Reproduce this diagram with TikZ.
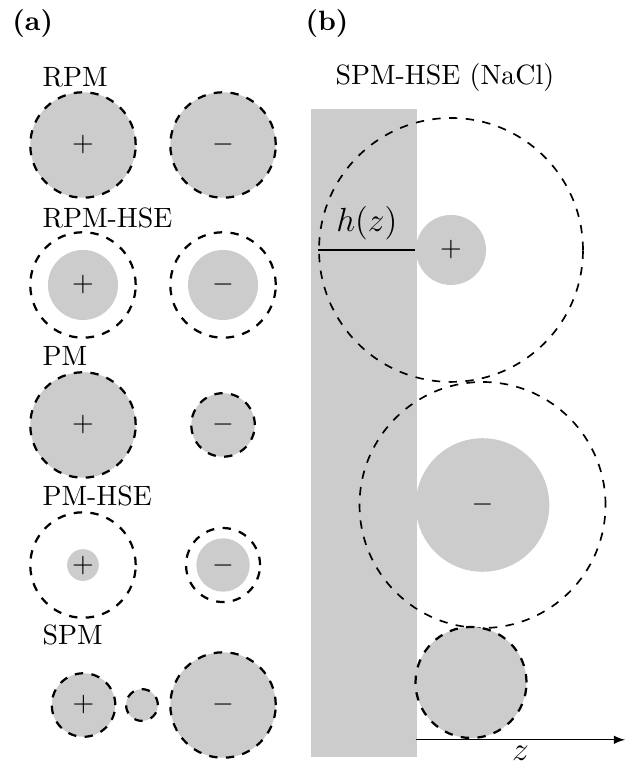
\documentclass[tikz,border=0pt]{standalone}
\usetikzlibrary{arrows}

\begin{document}
\begin{tikzpicture}[
    ion/.style={circle, fill=gray!40, inner sep=0pt, minimum size=#1},
    shell/.style={circle, draw, dashed, thick, inner sep=0pt, minimum size=#1},
    lab/.style={anchor=base west, inner sep=0pt}]
  \useasboundingbox (0,0) rectangle (7.909,9.647);

  % (a) the five models
  \node[lab] (pa) at (0.15,9.257) {\textbf{(a)}};

  \node[lab] (lrpm) at (0.529,8.552) {RPM};
  \node[ion=1.328cm, draw, dashed, thick] (rpmp) at (1.045,7.821) {$+$};
  \node[ion=1.328cm, draw, dashed, thick] (rpmm) at (2.809,7.821) {$-$};

  \node[lab] (lrpmh) at (0.529,6.776) {RPM-HSE};
  \node[shell=1.328cm] (rpmhsp) at (1.045,6.058) {};
  \node[ion=0.882cm] (rpmhp) at (rpmhsp) {$+$};
  \node[shell=1.328cm] (rpmhsm) at (2.809,6.058) {};
  \node[ion=0.882cm] (rpmhm) at (rpmhsm) {$-$};

  \node[lab] (lpm) at (0.529,5.050) {PM};
  \node[ion=1.328cm, draw, dashed, thick] (pmp) at (1.045,4.295) {$+$};
  \node[ion=0.8cm, draw, dashed, thick] (pmm) at (2.809,4.295) {$-$};

  \node[lab] (lpmh) at (0.529,3.287) {PM-HSE};
  \node[shell=1.328cm] (pmhsp) at (1.045,2.531) {};
  \node[ion=0.4cm] (pmhp) at (pmhsp) {$+$};
  \node[shell=0.932cm] (pmhsm) at (2.809,2.531) {};
  \node[ion=0.672cm] (pmhm) at (pmhsm) {$-$};

  \node[lab] (lspm) at (0.529,1.524) {SPM};
  \node[ion=0.8cm, draw, dashed, thick] (spmp) at (1.052,0.768) {$+$};
  \node[ion=0.4cm, draw, dashed, thick] (spmw) at (1.788,0.768) {};
  \node[ion=1.328cm, draw, dashed, thick] (spmm) at (2.809,0.768) {$-$};

  % (b) ions at the wall
  \node[lab] (pb) at (3.841,9.257) {\textbf{(b)}};
  \node[lab] (lnacl) at (4.219,8.589) {SPM-HSE (NaCl)};

  \node[fill=gray!40, inner sep=0pt, minimum width=1.335cm, minimum height=8.161cm,
        anchor=south west] (wall) at (3.904,0.101) {};

  \node[shell=3.324cm, semithick] (hsp) at (5.680,6.499) {};
  \node[ion=0.882cm] (cat) at (hsp) {$+$};
  \draw (hsp.west) -- (cat.west) node[midway, above] {\large $h(z)$};

  \node[shell=3.098cm, semithick] (hsm) at (6.077,3.287) {};
  \node[ion=1.682cm] (an) at (hsm) {$-$};

  \node[ion=1.398cm, draw, dashed, thick] (wat) at (5.932,1.052) {};

  \coordinate (zo) at (5.239,0.33);
  \coordinate (zend) at (7.872,0.33);
  \draw[-latex] (zo) -- (zend) node[midway, below, inner sep=2.2pt] {\large $z$};
\end{tikzpicture}
\end{document}
